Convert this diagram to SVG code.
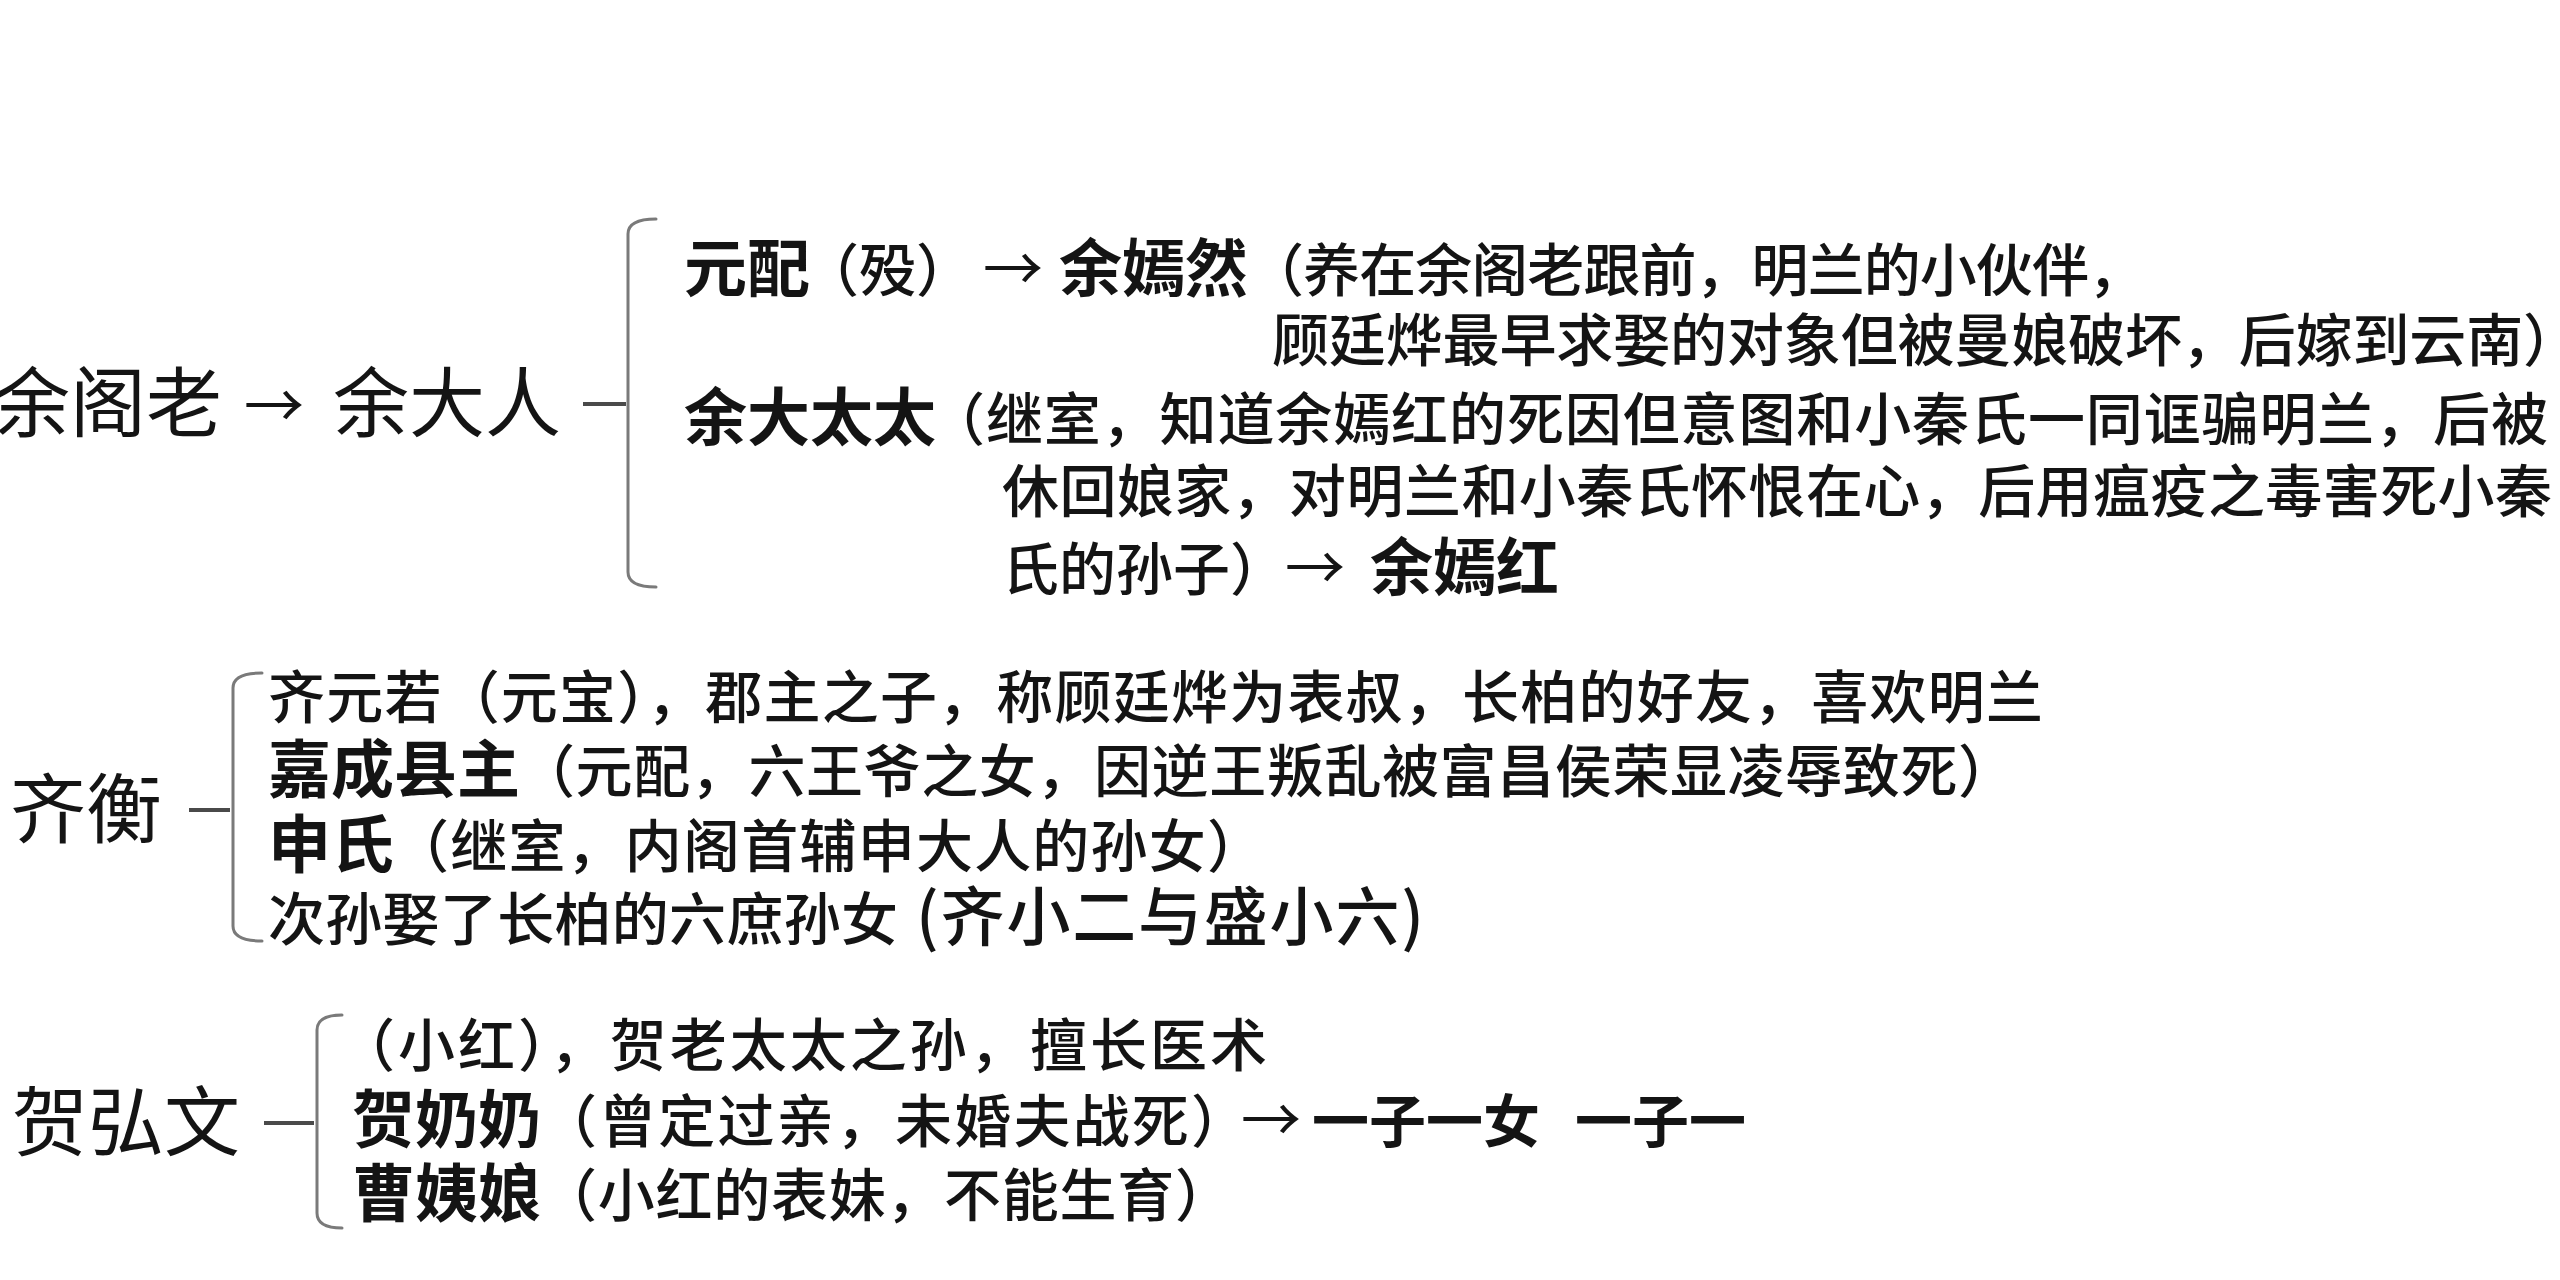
<svg xmlns="http://www.w3.org/2000/svg" width="2560" height="1280" viewBox="0 0 2560 1280">
<style>
text{font-family:'Noto Sans CJK SC','Noto Sans CJK TC',sans-serif;fill:#141414}
.h{font-size:76px;font-weight:400}
.n{font-size:63px;font-weight:700}
.d{font-size:57px;font-weight:500}
.ar{font-size:60px;font-weight:400}
.big{font-size:64px;font-weight:500}
.br{fill:none;stroke:#7a7a7a;stroke-width:3;stroke-linecap:round}
.dash{fill:none;stroke:#4a4a4a;stroke-width:4}
</style>
<rect width="2560" height="1280" fill="#ffffff"/>

<g id="connectors">
  <text class="ar" x="244" y="428">→</text>
  <line class="dash" x1="583" y1="404" x2="626" y2="404"/>
  <path class="br" d="M656 219 Q628 219 628 234 L628 572 Q628 587 656 587"/>
  <line class="dash" x1="189" y1="810" x2="230" y2="810"/>
  <path class="br" d="M262 673 Q233 673 233 688 L233 926 Q233 941 262 941"/>
  <line class="dash" x1="264" y1="1123" x2="314" y2="1123"/>
  <path class="br" d="M342 1015 Q317 1015 317 1030 L317 1213 Q317 1228 342 1228"/>
</g>

<g id="node-yugelao"><text class="h" x="-6" y="431">余阁老</text></g>
<g id="node-yudaren"><text class="h" x="333" y="431">余大人</text></g>

<g id="node-yuanpei">
  <text y="291"><tspan class="n" x="684">元配</tspan><tspan class="d" x="802">（殁）</tspan><tspan class="ar" x="983">→</tspan><tspan class="n" x="1059">余嫣然</tspan><tspan class="d" x="1247" textLength="898" lengthAdjust="spacing">（养在余阁老跟前，明兰的小伙伴，</tspan></text>
  <text class="d" x="1272" y="361" textLength="1308" lengthAdjust="spacing">顾廷烨最早求娶的对象但被曼娘破坏，后嫁到云南）</text>
</g>

<g id="node-yudataitai">
  <text y="440"><tspan class="n" x="684">余大太太</tspan><tspan class="d" x="928" textLength="1620" lengthAdjust="spacing">（继室，知道余嫣红的死因但意图和小秦氏一同诓骗明兰，后被</tspan></text>
  <text class="d" x="1002" y="512" textLength="1550" lengthAdjust="spacing">休回娘家，对明兰和小秦氏怀恨在心，后用瘟疫之毒害死小秦</text>
  <text y="590"><tspan class="d" x="1002">氏的孙子）</tspan><tspan class="ar" x="1285">→</tspan><tspan class="n" x="1370">余嫣红</tspan></text>
</g>

<g id="node-qiheng"><text class="h" x="10" y="837">齐衡</text></g>

<g id="node-qiyuanruo">
  <text class="d" x="268" y="718" textLength="1775" lengthAdjust="spacing">齐元若（元宝），郡主之子，称顾廷烨为表叔，长柏的好友，喜欢明兰</text>
</g>
<g id="node-jiacheng">
  <text y="792"><tspan class="n" x="268">嘉成县主</tspan><tspan class="d" x="518" textLength="1497" lengthAdjust="spacing">（元配，六王爷之女，因逆王叛乱被富昌侯荣显凌辱致死）</tspan></text>
</g>
<g id="node-shenshi">
  <text y="867"><tspan class="n" x="268">申氏</tspan><tspan class="d" x="392" textLength="872" lengthAdjust="spacing">（继室，内阁首辅申大人的孙女）</tspan></text>
</g>
<g id="node-cisun">
  <text y="940"><tspan class="d" x="268" textLength="630" lengthAdjust="spacing">次孙娶了长柏的六庶孙女</tspan><tspan class="big" x="916" textLength="508" lengthAdjust="spacing">(齐小二与盛小六)</tspan></text>
</g>

<g id="node-hehongwen"><text class="h" x="12" y="1150">贺弘文</text></g>

<g id="node-xiaohong">
  <text class="d" x="338" y="1066" textLength="929" lengthAdjust="spacing">（小红），贺老太太之孙，擅长医术</text>
</g>
<g id="node-henainai">
  <text y="1142"><tspan class="n" x="352">贺奶奶</tspan><tspan class="d" x="540" textLength="708" lengthAdjust="spacing">（曾定过亲，未婚夫战死）</tspan><tspan class="ar" x="1241">→</tspan><tspan class="d" style="font-weight:700" x="1312">一子一女</tspan><tspan class="d" style="font-weight:700" x="1575">一子一</tspan></text>
</g>
<g id="node-caoyiniang">
  <text y="1216"><tspan class="n" x="352">曹姨娘</tspan><tspan class="d" x="540" textLength="692" lengthAdjust="spacing">（小红的表妹，不能生育）</tspan></text>
</g>
</svg>
